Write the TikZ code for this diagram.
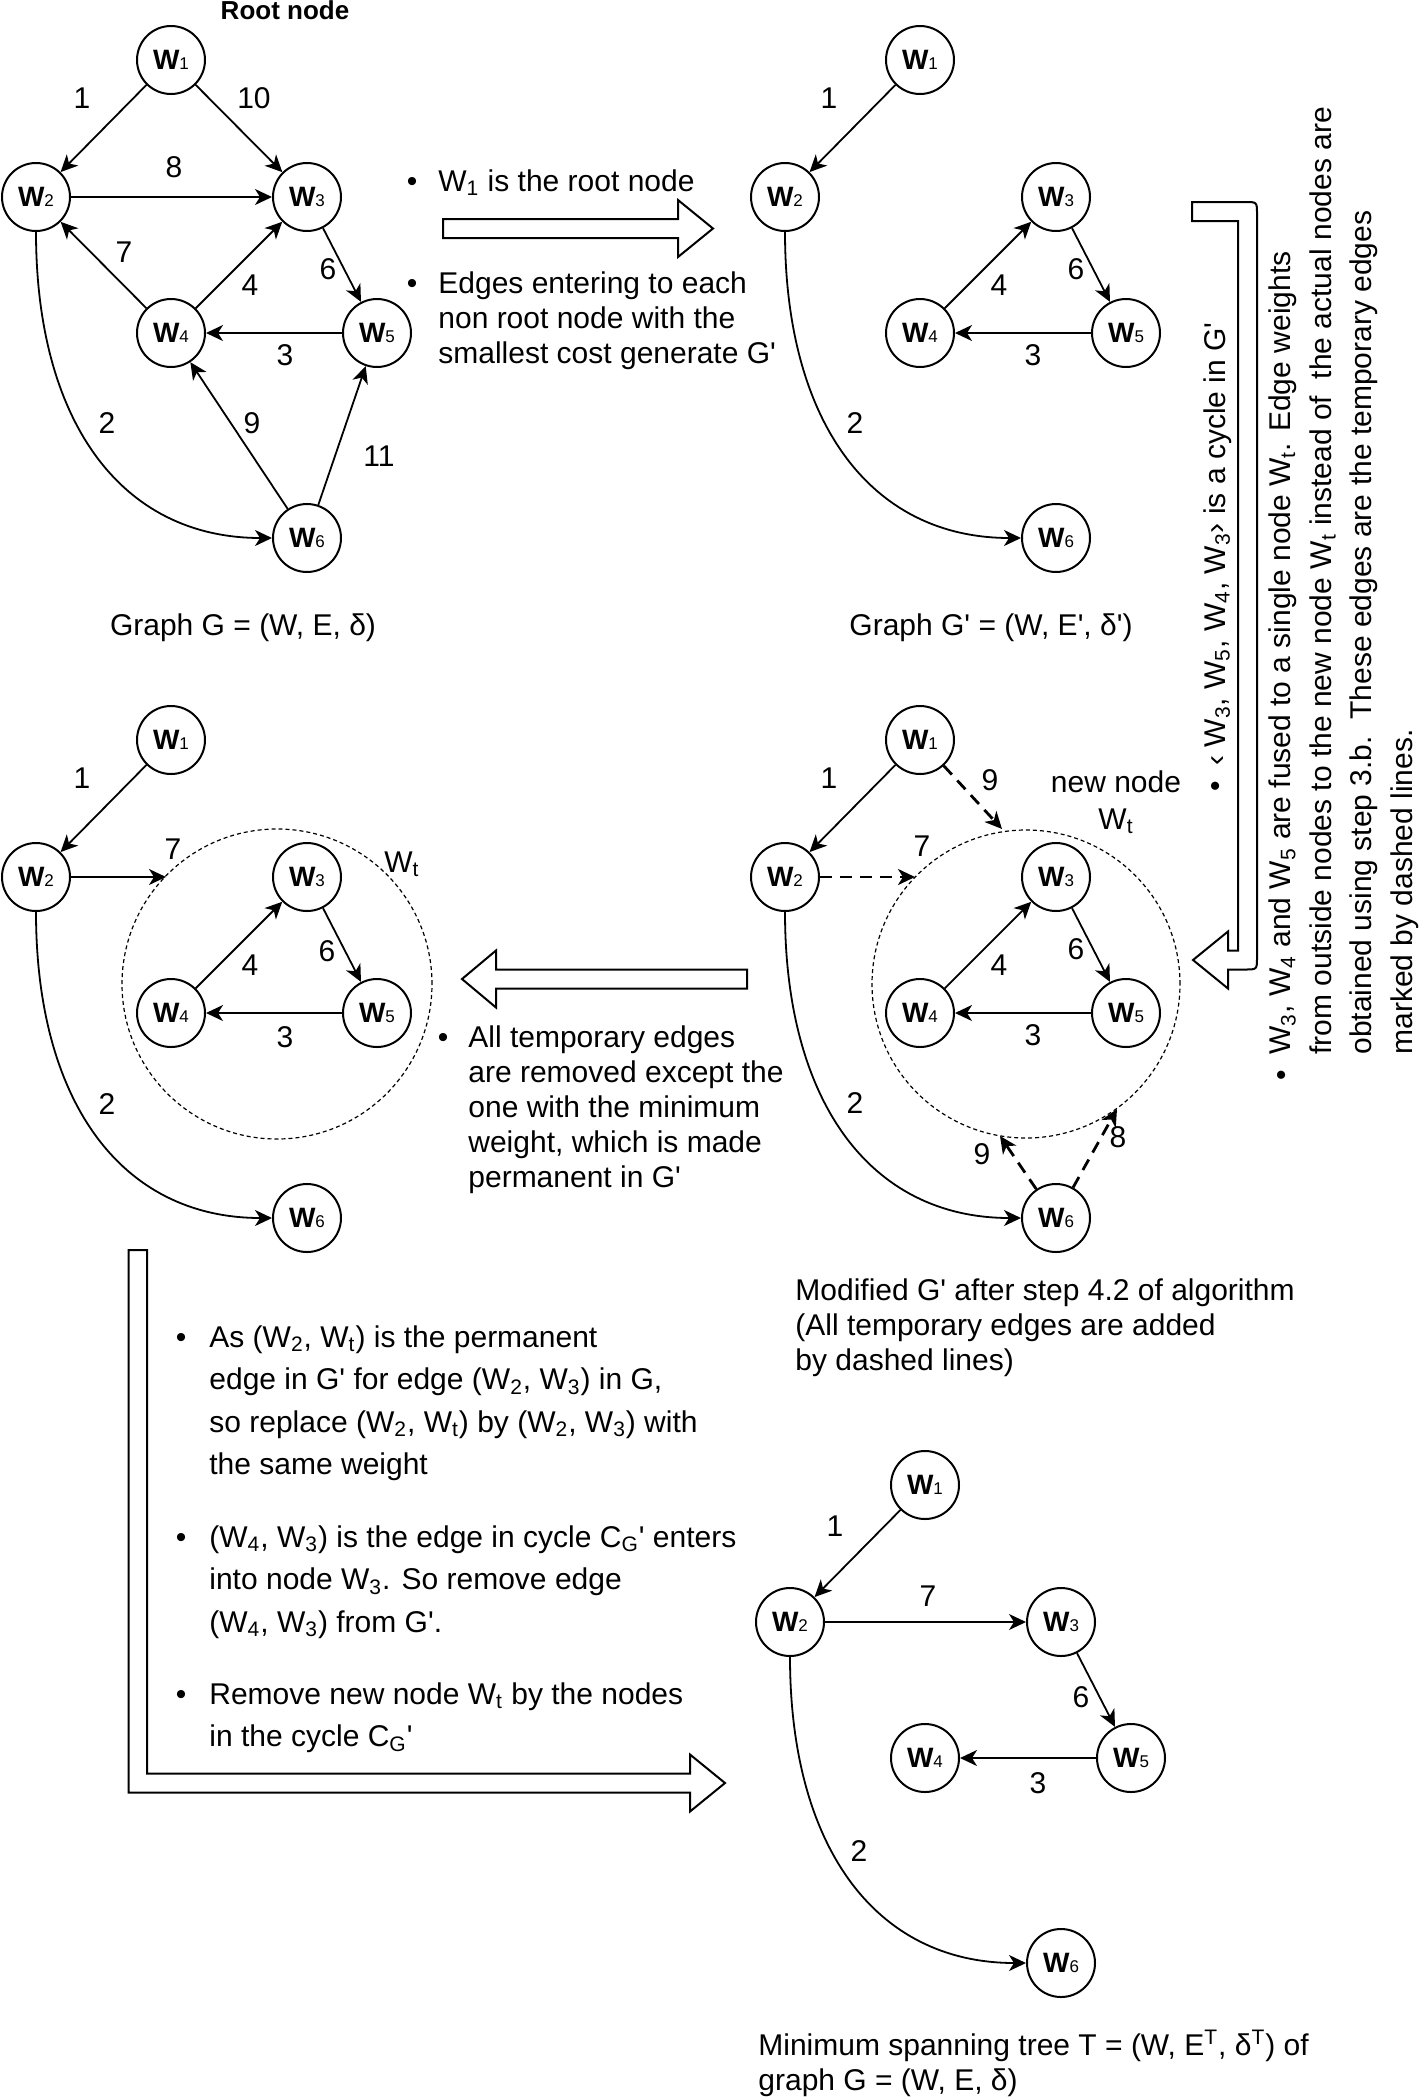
\documentclass[tikz,border=0pt]{standalone}
\usepackage{fontspec}
\setmainfont{Liberation Sans}[Ligatures=TeXOff]
\usetikzlibrary{arrows.meta}
\newcommand{\wv}[1]{\textbf{W}{\fontsize{8.5}{8.5}\selectfont #1}}
\tikzset{
  vtx/.style={draw, circle, line width=1pt, minimum size=34pt, inner sep=0pt, font=\fontsize{14}{14}\selectfont},
  link/.style={-{Stealth[length=8.5pt, width=8pt, inset=2.5pt]}, line width=0.9pt},
  templink/.style={link, line width=1.4pt, dash pattern=on 6pt off 4pt},
  wtcircle/.style={draw, circle, line width=0.6pt, dash pattern=on 2pt off 1.5pt, inner sep=0pt},
  wlabel/.style={font=\fontsize{15}{18}\selectfont, inner sep=0pt},
  txt/.style={font=\fontsize{15}{17.5}\selectfont, inner sep=0pt},
  bigtxt/.style={font=\fontsize{15}{21.25}\selectfont, inner sep=0pt, align=left},
  blockarrow/.style={draw, fill=white, line width=1pt, line join=miter}
}

\begin{document}
\begin{tikzpicture}[x=0.5pt, y=-0.5pt]
  \useasboundingbox[fill=white] (0,0) rectangle (1419,2099);

  % Graph G
  \node[txt, anchor=base, font=\fontsize{13}{13}\selectfont\bfseries] (root) at (285,19) {Root node};
  \node[vtx] (a1) at (171,60) {\wv{1}};
  \node[vtx] (a2) at (36,197) {\wv{2}};
  \node[vtx] (a3) at (307,197) {\wv{3}};
  \node[vtx] (a4) at (171,333) {\wv{4}};
  \node[vtx] (a5) at (377,333) {\wv{5}};
  \node[vtx] (a6) at (307,538) {\wv{6}};
  \draw[link] (a1) -- (a2);
  \draw[link] (a1) -- (a3);
  \draw[link] (a2) -- (a3);
  \draw[link] (a4) -- (a2);
  \draw[link] (a4) -- (a3);
  \draw[link] (a3) -- (a5);
  \draw[link] (a5) -- (a4);
  \draw[link] (a6) -- (a4);
  \draw[link] (a6) -- (a5);
  \draw[link] (a2.south) .. controls (36,420) and (120,538) .. (a6.west);
  \node[wlabel] (la12) at (82,98) {1};
  \node[wlabel] (la13) at (254,98) {10};
  \node[wlabel] (la23) at (174,167) {8};
  \node[wlabel] (la42) at (124,252) {7};
  \node[wlabel] (la43) at (250,285) {4};
  \node[wlabel] (la35) at (328,269) {6};
  \node[wlabel] (la54) at (285,355) {3};
  \node[wlabel] (la26) at (107,423) {2};
  \node[wlabel] (la64) at (252,423) {9};
  \node[wlabel] (la65) at (379,456) {11};
  \node[txt, anchor=base] (capa) at (243,635) {Graph G = (W, E, δ)};

  % Step 1: G -> G'
  \draw[blockarrow] (443,219) -- (678,219) -- (678,200) -- (713,228.5) -- (678,257) -- (678,238) -- (443,238) -- cycle;
  \node[txt, anchor=base] (dot1) at (412,191) {•};
  \node[txt, anchor=base west] (note1) at (438,191) {W\textsubscript{1} is the root node};
  \node[txt, anchor=base] (dot2) at (412,293) {•};
  \node[txt, anchor=base west, align=left] (note2) at (438,363) {Edges entering to each\\non root node with the\\smallest cost generate G'};

  % Graph G'
  \begin{scope}[shift={(749,0)}]
    \node[vtx] (b1) at (171,60) {\wv{1}};
    \node[vtx] (b2) at (36,197) {\wv{2}};
    \node[vtx] (b3) at (307,197) {\wv{3}};
    \node[vtx] (b4) at (171,333) {\wv{4}};
    \node[vtx] (b5) at (377,333) {\wv{5}};
    \node[vtx] (b6) at (307,538) {\wv{6}};
    \draw[link] (b1) -- (b2);
    \draw[link] (b4) -- (b3);
    \draw[link] (b3) -- (b5);
    \draw[link] (b5) -- (b4);
    \draw[link] (b2.south) .. controls (36,420) and (120,538) .. (b6.west);
    \node[wlabel] (lb12) at (80,98) {1};
    \node[wlabel] (lb43) at (250,285) {4};
    \node[wlabel] (lb35) at (327,269) {6};
    \node[wlabel] (lb54) at (284,355) {3};
    \node[wlabel] (lb26) at (106,423) {2};
    \node[txt, anchor=base] (capb) at (242,635) {Graph G' = (W, E', δ')};
  \end{scope}

  % Step 2: cycle found, fuse into Wt
  \draw[blockarrow] (1192,202) -- (1245,202) .. controls (1257,202) .. (1257,214) -- (1257,957.5)
    .. controls (1257,969.5) .. (1245,969.5) -- (1228,969.5) -- (1228,988.5) -- (1193,960)
    -- (1228,931.5) -- (1228,950.5) -- (1238,950.5) -- (1238,221) -- (1192,221) -- cycle;
  \node[txt, rotate=90, anchor=base] (dot3) at (1225,786) {•};
  \node[txt, rotate=90, anchor=base west] (cycle) at (1225,766) {‹ W\textsubscript{3}, W\textsubscript{5}, W\textsubscript{4}, W\textsubscript{3}› is a cycle in G'};
  \node[txt, rotate=90, anchor=base] (dot4) at (1291,1075) {•};
  \node[txt, rotate=90, anchor=base west, align=left, font=\fontsize{15}{20.2}\selectfont] (fuse) at (1412,1055)
    {W\textsubscript{3}, W\textsubscript{4} and W\textsubscript{5} are fused to a single node W\textsubscript{t}. Edge weights\\
     from outside nodes to the new node W\textsubscript{t} instead of\ \ the actual nodes are\\
     obtained using step 3.b.\ \ These edges are the temporary edges\\
     marked by dashed lines.};

  % Modified G' with temporary edges
  \begin{scope}[shift={(749,680)}]
    \node[wtcircle, minimum size=154pt] (cwt) at (277,304) {};
    \node[vtx] (c1) at (171,60) {\wv{1}};
    \node[vtx] (c2) at (36,197) {\wv{2}};
    \node[vtx] (c3) at (307,197) {\wv{3}};
    \node[vtx] (c4) at (171,333) {\wv{4}};
    \node[vtx] (c5) at (377,333) {\wv{5}};
    \node[vtx] (c6) at (307,538) {\wv{6}};
    \coordinate (ct1) at (253,149);
    \coordinate (ct2) at (166,197);
    \coordinate (ct6a) at (251,456);
    \coordinate (ct6b) at (368,429);
    \draw[link] (c1) -- (c2);
    \draw[link] (c4) -- (c3);
    \draw[link] (c3) -- (c5);
    \draw[link] (c5) -- (c4);
    \draw[link] (c2.south) .. controls (36,420) and (120,538) .. (c6.west);
    \draw[templink] (c1) -- (ct1);
    \draw[templink] (c2) -- (ct2);
    \draw[templink] (c6) -- (ct6a);
    \draw[templink] (c6) -- (ct6b);
    \node[wlabel] (lc12) at (80,98) {1};
    \node[wlabel] (lc1t) at (241,100) {9};
    \node[wlabel] (lc2t) at (173,166) {7};
    \node[wlabel] (lc43) at (250,285) {4};
    \node[wlabel] (lc35) at (327,269) {6};
    \node[wlabel] (lc54) at (284,355) {3};
    \node[wlabel] (lc26) at (106,423) {2};
    \node[wlabel] (lc6ta) at (233,474) {9};
    \node[wlabel] (lc6tb) at (369,457) {8};
    \node[txt, anchor=base, align=center, font=\fontsize{15}{18.5}\selectfont] (newnode) at (367,149) {new node\\W\textsubscript{t}};
    \node[txt, anchor=base west, align=left] (capc) at (46,690) {Modified G' after step 4.2 of algorithm\\(All temporary edges are added\\by dashed lines)};
  \end{scope}

  % Step 3: keep the cheapest temporary edge
  \draw[blockarrow] (747,969.5) -- (496,969.5) -- (496,950.5) -- (462,979) -- (496,1007.5) -- (496,988.5) -- (747,988.5) -- cycle;
  \node[txt, anchor=base] (dot5) at (443,1047) {•};
  \node[txt, anchor=base west, align=left] (keep) at (468,1187) {All temporary edges\\are removed except the\\one with the minimum\\weight, which is made\\permanent in G'};

  % G' with contracted node Wt
  \begin{scope}[shift={(0,680)}]
    \node[wtcircle, minimum size=155pt] (dwt) at (277,304) {};
    \node[vtx] (d1) at (171,60) {\wv{1}};
    \node[vtx] (d2) at (36,197) {\wv{2}};
    \node[vtx] (d3) at (307,197) {\wv{3}};
    \node[vtx] (d4) at (171,333) {\wv{4}};
    \node[vtx] (d5) at (377,333) {\wv{5}};
    \node[vtx] (d6) at (307,538) {\wv{6}};
    \coordinate (dt2) at (166,197);
    \draw[link] (d1) -- (d2);
    \draw[link] (d2) -- (dt2);
    \draw[link] (d4) -- (d3);
    \draw[link] (d3) -- (d5);
    \draw[link] (d5) -- (d4);
    \draw[link] (d2.south) .. controls (36,420) and (120,538) .. (d6.west);
    \node[wlabel] (ld12) at (82,98) {1};
    \node[wlabel] (ld2t) at (173,169) {7};
    \node[wlabel] (ld43) at (250,285) {4};
    \node[wlabel] (ld35) at (327,271) {6};
    \node[wlabel] (ld54) at (285,357) {3};
    \node[wlabel] (ld26) at (107,424) {2};
    \node[txt, anchor=base] (dwtlbl) at (402,192) {W\textsubscript{t}};
  \end{scope}

  % Step 4: expand Wt again
  \draw[blockarrow] (128.5,1250) -- (147,1250) -- (147,1773.5) -- (690,1773.5) -- (690,1754.5) -- (725,1783) -- (690,1811.5) -- (690,1792.5) -- (128.5,1792.5) -- cycle;
  \node[txt, anchor=base] (dot6) at (181,1347) {•};
  \node[bigtxt, anchor=base west] (expand1) at (209,1474.5) {As (W\textsubscript{2}, W\textsubscript{t}) is the permanent\\edge in G' for edge (W\textsubscript{2}, W\textsubscript{3}) in G,\\so replace (W\textsubscript{2}, W\textsubscript{t}) by (W\textsubscript{2}, W\textsubscript{3}) with\\the same weight};
  \node[txt, anchor=base] (dot7) at (181,1547) {•};
  \node[bigtxt, anchor=base west] (expand2) at (209,1632) {(W\textsubscript{4}, W\textsubscript{3}) is the edge in cycle C\textsubscript{G}' enters\\into node W\textsubscript{3}. So remove edge\\(W\textsubscript{4}, W\textsubscript{3}) from G'.};
  \node[txt, anchor=base] (dot8) at (181,1704) {•};
  \node[bigtxt, anchor=base west] (expand3) at (209,1746.5) {Remove new node W\textsubscript{t} by the nodes\\in the cycle C\textsubscript{G}'};

  % Minimum spanning tree T
  \begin{scope}[shift={(754,1425)}]
    \node[vtx] (t1) at (171,60) {\wv{1}};
    \node[vtx] (t2) at (36,197) {\wv{2}};
    \node[vtx] (t3) at (307,197) {\wv{3}};
    \node[vtx] (t4) at (171,333) {\wv{4}};
    \node[vtx] (t5) at (377,333) {\wv{5}};
    \node[vtx] (t6) at (307,538) {\wv{6}};
    \draw[link] (t1) -- (t2);
    \draw[link] (t2) -- (t3);
    \draw[link] (t3) -- (t5);
    \draw[link] (t5) -- (t4);
    \draw[link] (t2.south) .. controls (36,420) and (120,538) .. (t6.west);
    \node[wlabel] (lt12) at (81,101) {1};
    \node[wlabel] (lt23) at (174,171) {7};
    \node[wlabel] (lt35) at (327,272) {6};
    \node[wlabel] (lt54) at (284,358) {3};
    \node[wlabel] (lt26) at (105,426) {2};
    \node[txt, anchor=base west, align=left] (capt) at (4,665) {Minimum spanning tree T = (W, E\textsuperscript{T}, δ\textsuperscript{T}) of\\graph G = (W, E, δ)};
  \end{scope}
\end{tikzpicture}
\end{document}
